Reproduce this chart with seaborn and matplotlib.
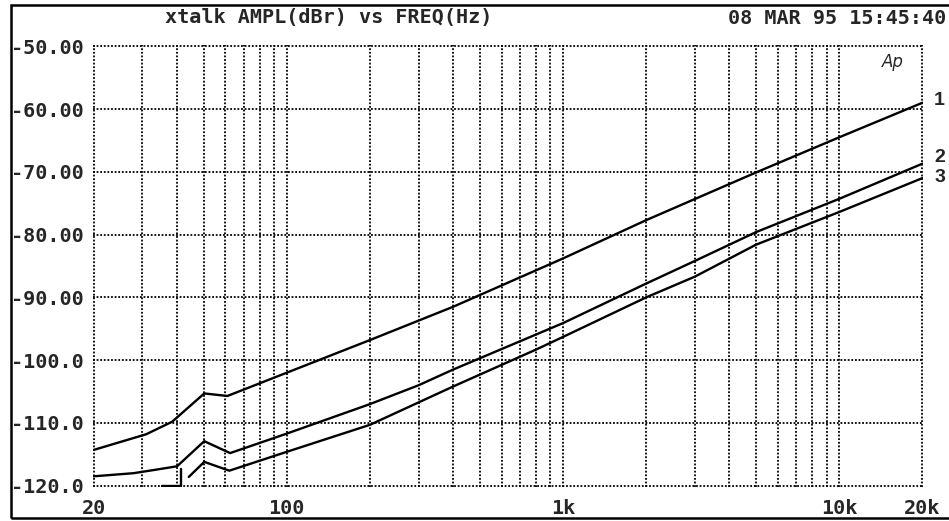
import matplotlib
matplotlib.use("Agg")
import matplotlib.pyplot as plt
import pandas as pd
import seaborn as sns

# crosstalk curves (freq in Hz, ampl in dBr)
freq_1 = [20, 31, 38.5, 50.3, 61, 100, 200, 400, 1000, 2000, 5000, 10000, 20000]
ampl_1 = [-114.3, -111.8, -109.8, -105.3, -105.7, -102.0, -96.8, -91.5, -83.8, -77.7, -70.1, -64.5, -59.0]

freq_2 = [20, 27.9, 34.1, 40.1, 50.3, 62.4, 100, 200, 300, 400, 800, 1000, 2000, 3000, 5000, 10000, 20000]
ampl_2 = [-118.5, -118.0, -117.4, -116.9, -112.9, -114.8, -111.7, -107.0, -104.0, -101.5, -95.9, -94.1,
          -87.8, -84.2, -79.6, -74.3, -68.7]

# curve 3 is below the bottom of the scale at low freq, the analyzer pins it at -120
freq_3a = [35.4, 41.3, 41.3]
ampl_3a = [-120.0, -120.0, -117.4]
freq_3 = [44.2, 50.3, 62, 100, 200, 400, 800, 1000, 2000, 3000, 5000, 10000, 20000]
ampl_3 = [-118.6, -116.2, -117.6, -114.6, -110.3, -104.2, -98.3, -96.3, -90.0, -86.7, -81.6, -76.4, -71.0]

curve_names = ["1", "2", "3"]
label_y = [-58.7, -67.7, -70.9]

x_grid = [m * 10 ** e for e in range(1, 4) for m in range(1, 10) if m * 10 ** e >= 20] + [10000, 20000]
x_labels = {20: "20", 100: "100", 1000: "1k", 10000: "10k", 20000: "20k"}
y_ticks = [-120, -110, -100, -90, -80, -70, -60, -50]
y_labels = ["-120.0", "-110.0", "-100.0", "-90.00", "-80.00", "-70.00", "-60.00", "-50.00"]

title = "xtalk AMPL(dBr) vs FREQ(Hz)"
stamp = "08 MAR 95 15:45:40"


def build_frame():
    parts = []
    for seg, (f, a) in enumerate([(freq_1, ampl_1), (freq_2, ampl_2), (freq_3a, ampl_3a), (freq_3, ampl_3)]):
        parts.append(pd.DataFrame({"freq": f, "ampl": a, "seg": seg}))
    return pd.concat(parts, ignore_index=True)


sns.set_style("white")
plt.rcParams["font.family"] = ["DejaVu Sans Mono"]

fig = plt.figure(figsize=(9.49, 5.21), dpi=100)
ax = fig.add_axes([93 / 949, 1 - 487 / 521, 830 / 949, 442 / 521])

df = build_frame()
sns.lineplot(data=df, x="freq", y="ampl", units="seg", estimator=None, sort=False,
             color="black", linewidth=1.7, ax=ax, legend=False)

ax.set_xscale("log")
ax.set_xlim(19.9, 20100)
ax.set_ylim(-120.2, -49.8)

# every grid line is a tick, only a few get a label
ax.set_xticks(x_grid)
ax.set_xticklabels([x_labels.get(x, "") for x in x_grid])
ax.xaxis.set_minor_locator(plt.NullLocator())
ax.set_yticks(y_ticks)
ax.set_yticklabels(y_labels)
ax.tick_params(length=0, labelsize=14.5)
ax.tick_params(axis="x", pad=9)
ax.tick_params(axis="y", pad=7)
for t in ax.get_xticklabels() + ax.get_yticklabels():
    t.set_fontweight("bold")

ax.grid(True, color="black", linewidth=1.3, linestyle=(0, (1, 1)))
for s in ax.spines.values():
    s.set_visible(False)
ax.set_xlabel("")
ax.set_ylabel("")

# curve numbers at the right end
for name, yv in zip(curve_names, label_y):
    ax.text(1.02, yv, name, transform=ax.get_yaxis_transform(), family="Liberation Sans",
            fontweight="bold", fontsize=14, ha="center", va="center")

ax.text(0.964, 0.962, "Ap", transform=ax.transAxes, family="DejaVu Sans", style="italic",
        fontsize=12, ha="center", va="center")

fig.text(165 / 949, 1 - 18 / 521, title, fontsize=14.5, fontweight="bold", ha="left", va="center")
fig.text(946 / 949, 1 - 18 / 521, stamp, fontsize=14.5, fontweight="bold", ha="right", va="center")

# outer frame of the printout
fig.add_artist(plt.Rectangle((11 / 949, 1 - 518 / 521), 1.0, 513 / 521, transform=fig.transFigure,
                             fill=False, edgecolor="black", linewidth=1.8))

fig.savefig("out.png", dpi=100)
